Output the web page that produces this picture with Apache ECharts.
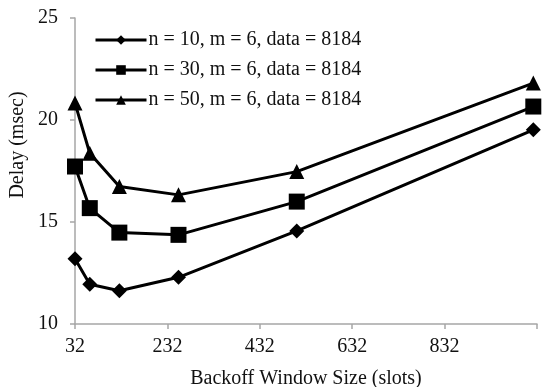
<!DOCTYPE html>
<html><head><meta charset="utf-8">
<script src="https://cdn.jsdelivr.net/npm/echarts@6/dist/echarts.min.js"></script>
<style>html,body{margin:0;padding:0;background:#fff}#c{width:543px;height:387px}</style>
</head><body><div id="c"></div>
<script>
const windowSizes = [32, 64, 128, 256, 512, 1024];
const seriesNames = ['n = 10, m = 6, data = 8184', 'n = 30, m = 6, data = 8184', 'n = 50, m = 6, data = 8184'];
const delayN10 = [13.2, 11.95, 11.63, 12.29, 14.56, 19.52];
const delayN30 = [17.72, 15.68, 14.48, 14.37, 16.0, 20.66];
const delayN50 = [20.83, 18.37, 16.74, 16.33, 17.47, 21.81];
const xTicks = [32, 232, 432, 632, 832];
const yTicks = [10, 15, 20, 25];

const font = 'Liberation Serif, Times New Roman, serif';
const pair = (vals) => windowSizes.map((x, i) => [x, vals[i]]);
const chart = echarts.init(document.getElementById('c'));
const mk = (name, vals, symbol, size) => ({
  name, type: 'line', data: pair(vals), symbol, symbolSize: size,
  lineStyle: {color: '#000', width: 3}, itemStyle: {color: '#000'},
  showAllSymbol: true, animation: false
});
chart.setOption({
  animation: false,
  grid: {left: 75, right: 6, top: 18, bottom: 63, outerBoundsMode: 'none', containLabel: false},
  legend: {
    orient: 'vertical', left: 94, top: 30, padding: 0, itemWidth: 51, itemHeight: 12, itemGap: 10,
    lineStyle: {width: 3, color: '#000'},
    textStyle: {fontFamily: font, fontSize: 20, color: '#111', padding: [0, 0, 0, -3]},
    data: seriesNames
  },
  graphic: [{
    type: 'text', x: 18, y: 145, rotation: Math.PI / 2,
    style: {text: 'Delay (msec)', fontFamily: font, fontSize: 20, fill: '#111',
      textAlign: 'center', textVerticalAlign: 'middle'}
  }],
  xAxis: {
    type: 'value', min: 32, max: 1032, interval: 200,
    name: 'Backoff Window Size (slots)', nameLocation: 'middle', nameGap: 45,
    nameTextStyle: {fontFamily: font, fontSize: 20, color: '#111'},
    axisLine: {lineStyle: {color: '#a6a6a6', width: 1.5}},
    axisTick: {show: true, length: 5, lineStyle: {color: '#a6a6a6', width: 1.5}},
    axisLabel: {fontFamily: font, fontSize: 20, color: '#111', margin: 13,
      formatter: v => xTicks.includes(v) ? String(v) : ''},
    splitLine: {show: false}
  },
  yAxis: {
    type: 'value', min: 10, max: 25, interval: 5,
    axisLine: {show: true, lineStyle: {color: '#a6a6a6', width: 1.5}},
    axisTick: {show: true, length: 5, lineStyle: {color: '#a6a6a6', width: 1.5}},
    axisLabel: {fontFamily: font, fontSize: 20, color: '#111', margin: 17,
      formatter: v => yTicks.includes(v) ? String(v) : ''},
    splitLine: {show: false}
  },
  series: [
    mk(seriesNames[0], delayN10, 'diamond', 15),
    mk(seriesNames[1], delayN30, 'rect', 16),
    mk(seriesNames[2], delayN50, 'triangle', 15)
  ]
});
</script></body></html>
